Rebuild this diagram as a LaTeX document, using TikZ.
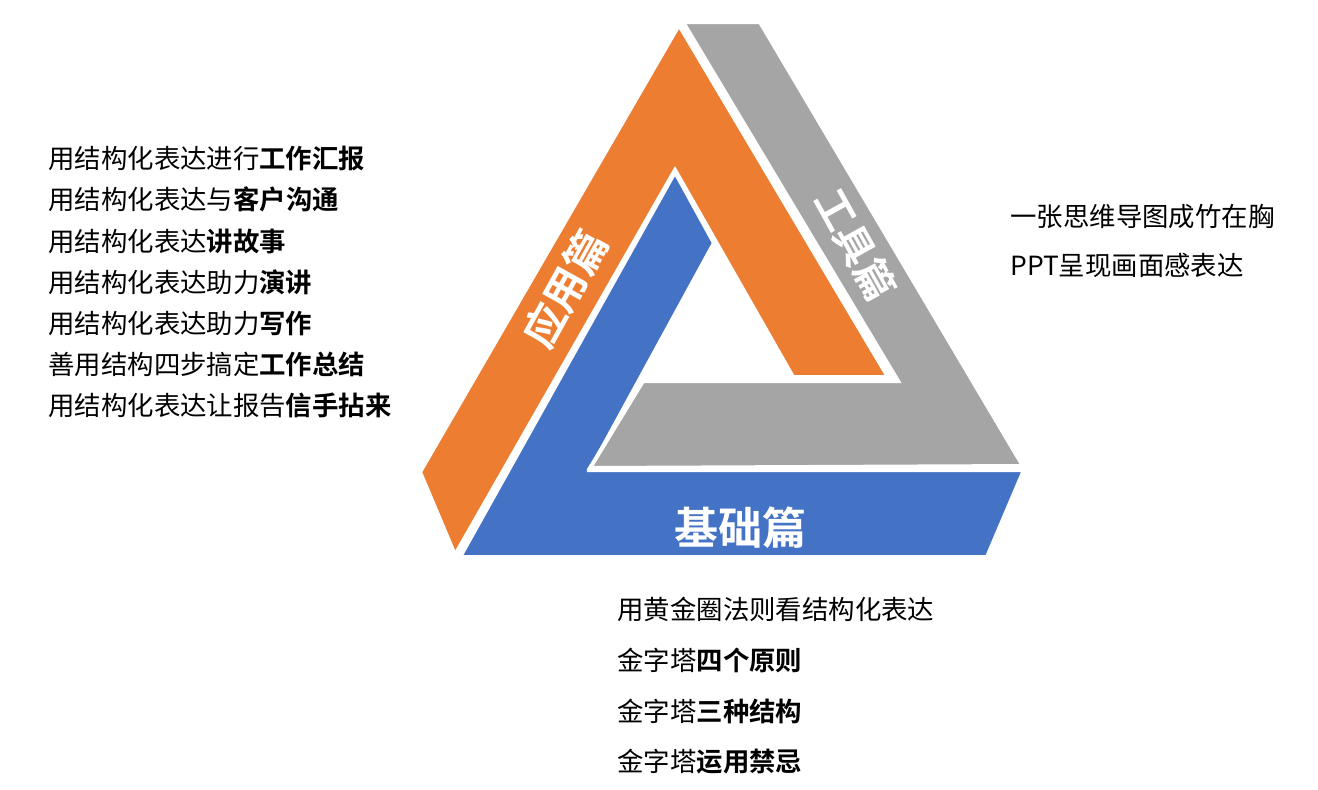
\documentclass[tikz,border=0pt]{standalone}
\usepackage{fontspec}
\setmainfont{Noto Sans CJK SC}[BoldFont={Noto Sans CJK SC Bold}]
\definecolor{appcolor}{HTML}{ED7D31}
\definecolor{toolcolor}{HTML}{A5A5A5}
\definecolor{basecolor}{HTML}{4472C4}

\begin{document}
\begin{tikzpicture}[x=0.5pt,y=-0.5pt,
  every node/.style={inner sep=0pt},
  item/.style={anchor=west,font=\fontsize{13.2}{15}\selectfont},
  barlabel/.style={text=white,font=\bfseries\fontsize{21}{23}\selectfont},
  bar/.style={draw=white,line width=2pt,line join=miter}]
  \fill[white] (0,0) rectangle (1318,789);
  \useasboundingbox (0,0) rectangle (1318,789);
  % the three bars
  \fill[appcolor,bar] (679,25)--(420,472)--(455,555)--(675,170)--(793,377)--(888,377)--cycle;
  \fill[basecolor,bar] (675,172)--(714,243)--(590,470)--(1024,470)--(987,557)--(460,557)--cycle;
  \fill[toolcolor,bar] (683,22)--(760,22)--(1023,466)--(590,468)--(643,381)--(898,381)--cycle;
  \node[barlabel,rotate=61] (app) at (565,289) {应用篇};
  \node[barlabel,rotate=-61,font=\bfseries\fontsize{20}{22}\selectfont] (tool) at (856,245) {工具篇};
  \node[barlabel,font=\bfseries\fontsize{22}{24}\selectfont] (base) at (740,528) {基础篇};
  % left: application
  \node[item] (app1) at (48,158) {用结构化表达进行{\bfseries 工作汇报}};
  \node[item] (app2) at (48,199) {用结构化表达与{\bfseries 客户沟通}};
  \node[item] (app3) at (48,241) {用结构化表达{\bfseries 讲故事}};
  \node[item] (app4) at (48,282) {用结构化表达助力{\bfseries 演讲}};
  \node[item] (app5) at (48,323) {用结构化表达助力{\bfseries 写作}};
  \node[item] (app6) at (48,364) {善用结构四步搞定{\bfseries 工作总结}};
  \node[item] (app7) at (48,405) {用结构化表达让报告{\bfseries 信手拈来}};
  % right: tools
  \node[item] (tool1) at (1010,217) {一张思维导图成竹在胸};
  \node[item] (tool2) at (1010,265) {PPT呈现画面感表达};
  % bottom: basics
  \node[item] (base1) at (617,609) {用黄金圈法则看结构化表达};
  \node[item] (base2) at (617,660) {金字塔{\bfseries 四个原则}};
  \node[item] (base3) at (617,711) {金字塔{\bfseries 三种结构}};
  \node[item] (base4) at (617,762) {金字塔{\bfseries 运用禁忌}};
\end{tikzpicture}
\end{document}
